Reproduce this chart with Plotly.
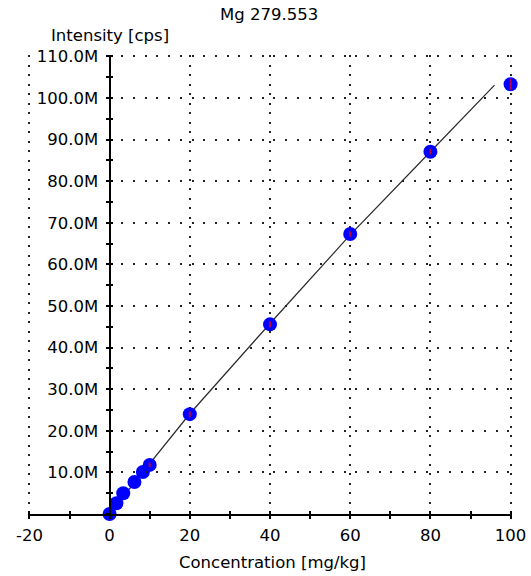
import plotly.graph_objects as go

# ---- data ----
conc = [0, 1.7, 3.4, 6.2, 8.3, 10, 20, 40, 60, 80, 100]
intensity = [0.0, 2.6e6, 5.0e6, 7.7e6, 10.1e6, 11.8e6, 24.0e6, 45.6e6, 67.3e6, 87.1e6, 103.3e6]
fit_x = [0, 10, 20, 40, 60, 80, 96]
fit_y = [0.1e6, 12.0e6, 24.1e6, 45.8e6, 67.1e6, 87.1e6, 103.1e6]
x_tickvals = [-20, 0, 20, 40, 60, 80, 100]
x_ticktext = ["-20", "0", "20", "40", "60", "80", "100"]
y_tickvals = [10e6, 20e6, 30e6, 40e6, 50e6, 60e6, 70e6, 80e6, 90e6, 100e6, 110e6]
y_ticktext = ["10.0M", "20.0M", "30.0M", "40.0M", "50.0M", "60.0M", "70.0M",
              "80.0M", "90.0M", "100.0M", "110.0M"]
title_text = "Mg 279.553"
y_title = "Intensity [cps]"
x_title = "Concentration [mg/kg]"

FONT = "DejaVu Sans"
FS = 16.5
TXT = "#000000"
GRID = "#222222"
XR = [-20.35, 100.35]
YR = [0, 110.35e6]

fig = go.Figure()

# fit line
fig.add_trace(go.Scatter(x=fit_x, y=fit_y, mode="lines",
                         line=dict(color="#2a2a2a", width=1.2),
                         hoverinfo="skip", showlegend=False, cliponaxis=False))
# standards
fig.add_trace(go.Scatter(x=conc, y=intensity, mode="markers",
                         marker=dict(color="#0000ff", size=14, symbol="circle",
                                     line=dict(width=0)),
                         showlegend=False, cliponaxis=False))
# small red marks in marker centres
fig.add_trace(go.Scatter(x=conc, y=intensity, mode="markers",
                         marker=dict(symbol="line-ns", size=[0, 0, 0, 0, 0, 3, 4, 4, 4, 4, 8],
                                     line=dict(color="#ff0000", width=2)),
                         hoverinfo="skip", showlegend=False, cliponaxis=False))
# helper traces so auxiliary axes are drawn
fig.add_trace(go.Scatter(x=[], y=[], xaxis="x2", yaxis="y2", showlegend=False))
fig.add_trace(go.Scatter(x=[], y=[], xaxis="x3", yaxis="y", showlegend=False))

X0 = (0 - XR[0]) / (XR[1] - XR[0])

fig.update_layout(
    width=531, height=576,
    margin=dict(l=28, r=19, t=55, b=62, autoexpand=False),
    paper_bgcolor="white", plot_bgcolor="rgba(0,0,0,0)",
    font=dict(family=FONT, size=FS, color=TXT),
    showlegend=False,
    xaxis=dict(domain=[0, 1], range=XR, anchor="y", automargin=False,
               tickmode="array", tickvals=x_tickvals, ticktext=x_ticktext,
               showgrid=True, gridcolor=GRID, gridwidth=1.5, griddash="2px,7.5px",
               showline=True, linecolor="black", linewidth=2,
               ticks="outside", ticklen=3, tickwidth=2, tickcolor="black",
               minor=dict(tickmode="linear", tick0=0, dtick=10, ticks="outside",
                          ticklen=3, tickwidth=2, tickcolor="black", showgrid=False),
               zeroline=False, tickfont=dict(family=FONT, size=FS, color=TXT),
               ticklabelstandoff=2),
    xaxis3=dict(range=XR, overlaying="x", anchor="y", automargin=False,
                tickmode="linear", tick0=0, dtick=10, ticks="inside",
                ticklen=3, tickwidth=2, tickcolor="black",
                showticklabels=False, showgrid=False, showline=False, zeroline=False),
    xaxis2=dict(domain=[X0, 1], range=[0, XR[1]], anchor="y2",
                automargin=False,
                showgrid=False, showline=False, zeroline=False,
                showticklabels=False, ticks=""),
    yaxis=dict(domain=[0, 1], range=YR, anchor="free",
               position=X0, automargin=False,
               tickmode="array", tickvals=y_tickvals, ticktext=y_ticktext,
               showgrid=False, showline=True, linecolor="black", linewidth=2,
               ticks="outside", ticklen=3, tickwidth=2, tickcolor="black",
               minor=dict(tickmode="linear", tick0=0, dtick=5e6, ticks="outside",
                          ticklen=3, tickwidth=2, tickcolor="black", showgrid=False),
               zeroline=False, tickfont=dict(family=FONT, size=FS, color=TXT),
               ticklabelstandoff=4),
    yaxis2=dict(domain=[0, 1], range=YR, anchor="x2", side="left", automargin=False,
                tickmode="linear", tick0=0, dtick=10e6,
                showgrid=True, gridcolor=GRID, gridwidth=1.5, griddash="2px,9.7px",
                ticks="inside", ticklen=3, tickwidth=2, tickcolor="black",
                minor=dict(tickmode="linear", tick0=0, dtick=5e6, ticks="inside",
                           ticklen=3, tickwidth=2, tickcolor="black", showgrid=False),
                showticklabels=False, showline=False, zeroline=False),
    annotations=[
        dict(text=title_text, xref="paper", yref="paper", x=0.498, y=(514 - 14) / 459,
             xanchor="center", yanchor="middle", showarrow=False,
             font=dict(family=FONT, size=FS, color=TXT)),
        dict(text=y_title, xref="paper", yref="paper", x=X0, y=(514 - 35) / 459,
             xanchor="center", yanchor="middle", showarrow=False,
             font=dict(family=FONT, size=FS, color=TXT)),
        dict(text=x_title, xref="paper", yref="paper", x=(272 - 28) / 484, y=(514 - 562) / 459,
             xanchor="center", yanchor="middle", showarrow=False,
             font=dict(family=FONT, size=FS, color=TXT)),
    ],
)

fig.write_html("out.html")
